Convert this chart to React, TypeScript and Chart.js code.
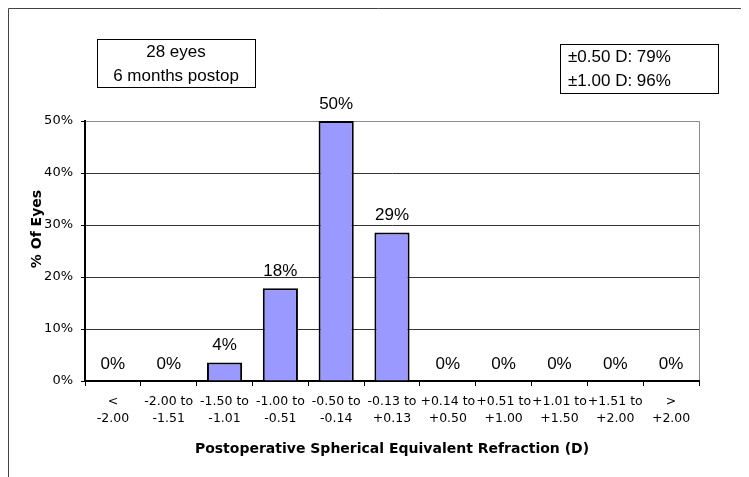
import React, { useEffect, useRef } from "react";
import { Chart, registerables } from "chart.js";

Chart.register(...registerables);

const categories: string[][] = [
  ["<", "-2.00"],
  ["-2.00 to", "-1.51"],
  ["-1.50 to", "-1.01"],
  ["-1.00 to", "-0.51"],
  ["-0.50 to", "-0.14"],
  ["-0.13 to", "+0.13"],
  ["+0.14 to", "+0.50"],
  ["+0.51 to", "+1.00"],
  ["+1.01 to", "+1.50"],
  ["+1.51 to", "+2.00"],
  [">", "+2.00"],
];
const percentOfEyes: number[] = [0, 0, 3.57, 17.86, 50, 28.57, 0, 0, 0, 0, 0];
const yTicks: number[] = [0, 10, 20, 30, 40, 50];
const infoLeft: string[] = ["28 eyes", "6 months postop"];
const infoRight: string[] = ["±0.50 D: 79%", "±1.00 D: 96%"];
const xTitle = "Postoperative Spherical Equivalent Refraction (D)";
const yTitle = "% Of Eyes";

const SANS = "'Liberation Sans', Arial, sans-serif";
const VERD = "'DejaVu Sans', Verdana, sans-serif";

const decorPlugin = {
  id: "decor",
  beforeDraw(chart: any) {
    const { ctx, width, height, chartArea } = chart;
    ctx.save();
    ctx.fillStyle = "#fff";
    ctx.fillRect(0, 0, width, height);
    ctx.strokeStyle = "#444";
    ctx.lineWidth = 1;
    ctx.beginPath();
    ctx.moveTo(0.5, height);
    ctx.lineTo(0.5, 0.5);
    ctx.lineTo(width, 0.5);
    ctx.stroke();
    // plot area frame (gray)
    ctx.strokeStyle = "#8c8c8c";
    ctx.beginPath();
    ctx.moveTo(chartArea.left, chartArea.top + 0.5);
    ctx.lineTo(chartArea.right + 0.5, chartArea.top + 0.5);
    ctx.lineTo(chartArea.right + 0.5, chartArea.bottom);
    ctx.stroke();
    ctx.restore();
  },
  afterDatasetsDraw(chart: any) {
    const { ctx } = chart;
    const meta = chart.getDatasetMeta(0);
    ctx.save();
    ctx.font = `17px ${SANS}`;
    ctx.fillStyle = "#000";
    ctx.textAlign = "center";
    ctx.textBaseline = "middle";
    meta.data.forEach((bar: any, i: number) => {
      const v = percentOfEyes[i];
      ctx.fillText(`${Math.round(v)}%`, bar.x, bar.y - 17);
    });
    ctx.restore();
  },
  afterDraw(chart: any) {
    const { ctx, chartArea } = chart;
    ctx.save();
    // info boxes
    ctx.strokeStyle = "#000";
    ctx.lineWidth = 1;
    ctx.strokeRect(89.5, 31.5, 158, 48);
    ctx.strokeRect(552.5, 36.5, 158, 49);
    ctx.font = `17px ${SANS}`;
    ctx.fillStyle = "#000";
    ctx.textBaseline = "middle";
    ctx.textAlign = "center";
    ctx.fillText(infoLeft[0], 168, 44);
    ctx.fillText(infoLeft[1], 168, 68);
    ctx.textAlign = "left";
    ctx.fillText(infoRight[0], 560, 49);
    ctx.fillText(infoRight[1], 560, 73);
    // axis titles
    ctx.font = `bold 14px ${VERD}`;
    ctx.textAlign = "center";
    ctx.fillText(xTitle, (chartArea.left + chartArea.right) / 2, 441);
    ctx.translate(29, 221);
    ctx.rotate(-Math.PI / 2);
    ctx.fillText(yTitle, 0, 0);
    ctx.restore();
  },
};

export default function App() {
  const ref = useRef<HTMLCanvasElement | null>(null);
  useEffect(() => {
    if (!ref.current) return;
    const chart = new Chart(ref.current, {
      type: "bar",
      data: {
        labels: categories,
        datasets: [
          {
            data: percentOfEyes,
            backgroundColor: "#9999FF",
            borderColor: "#000",
            borderWidth: 2,
            categoryPercentage: 1,
            barPercentage: 0.63,
          },
        ],
      },
      options: {
        responsive: false,
        animation: false,
        devicePixelRatio: 1,
        layout: { padding: { left: 0, top: 113, right: 50, bottom: 0 } },
        plugins: { legend: { display: false }, tooltip: { enabled: false } },
        scales: {
          x: {
            afterFit(scale: any) {
              scale.height = 96;
            },
            grid: {
              offset: true,
              drawOnChartArea: false,
              drawTicks: true,
              tickLength: 5,
              tickColor: "#000",
            },
            border: { color: "#000", width: 2 },
            ticks: {
              color: "#000",
              font: { family: VERD, size: 12.5, lineHeight: 1.36 },
              padding: 7,
              maxRotation: 0,
              autoSkip: false,
            },
          },
          y: {
            min: 0,
            max: 50,
            afterFit(scale: any) {
              scale.width = 77;
            },
            afterBuildTicks(scale: any) {
              scale.ticks = yTicks.map((v) => ({ value: v }));
            },
            grid: {
              color: (c: any) => (c.tick && c.tick.value === 50 ? "#8c8c8c" : "#333"),
              tickColor: "#000",
              tickLength: 4,
            },
            border: { color: "#000", width: 2 },
            ticks: {
              color: "#000",
              font: { family: VERD, size: 13 },
              padding: 8,
              callback: (v: any) => `${v}%`,
            },
          },
        },
      },
      plugins: [decorPlugin],
    });
    return () => chart.destroy();
  }, []);
  return <canvas ref={ref} width={741} height={469} style={{ display: "block" }} />;
}
